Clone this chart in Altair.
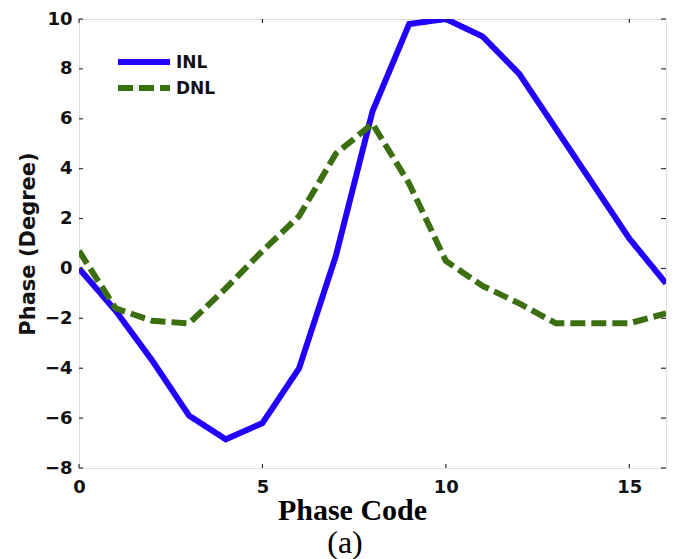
import altair as alt
import pandas as pd

codes = list(range(17))
inl = [0.0, -1.7, -3.7, -5.9, -6.85, -6.2, -4.0, 0.5, 6.3, 9.8, 10.0, 9.3, 7.8, 5.6, 3.4, 1.2, -0.6]
dnl = [0.7, -1.6, -2.1, -2.2, -0.8, 0.7, 2.1, 4.6, 5.8, 3.4, 0.3, -0.7, -1.4, -2.2, -2.2, -2.2, -1.8]
series_names = ["INL", "DNL"]
series_colors = ["#2200ff", "#3b6f10"]
x_ticks = [0, 5, 10, 15]
y_ticks = [-8, -6, -4, -2, 0, 2, 4, 6, 8, 10]

W, H = 587, 449
SANS = "DejaVu Sans"
SERIF = "Liberation Serif"

df = pd.DataFrame({
    "code": codes * 2,
    "value": inl + dnl,
    "series": ["INL"] * len(codes) + ["DNL"] * len(codes),
})

xscale = alt.Scale(domain=[0, 16], nice=False)
yscale = alt.Scale(domain=[-8, 10], nice=False)

xaxis = alt.Axis(values=x_ticks, ticks=False, grid=False, domain=False,
                 labelFont=SANS, labelFontWeight="bold", labelFontSize=18,
                 labelColor="#111", labelPadding=10, labelFlush=False,
                 title="Phase Code", titleFont=SERIF, titleFontWeight="bold",
                 titleFontSize=30, titleColor="#000", titlePadding=-1,
                 titleX=273, titleAnchor="start", titleAlign="center")
yaxis = alt.Axis(values=y_ticks, ticks=False, grid=False, domain=False,
                 labelFont=SANS, labelFontWeight="bold", labelFontSize=18,
                 labelColor="#111", labelPadding=7, labelFlush=False,
                 title="Phase (Degree)", titleFont=SANS, titleFontWeight="bold",
                 titleFontSize=21, titleColor="#111", titlePadding=6)

lines = alt.Chart(df).mark_line(strokeWidth=6, clip=True).encode(
    x=alt.X("code:Q", scale=xscale, axis=xaxis),
    y=alt.Y("value:Q", scale=yscale, axis=yaxis),
    color=alt.Color("series:N", scale=alt.Scale(domain=series_names, range=series_colors), legend=None),
    strokeDash=alt.StrokeDash("series:N", scale=alt.Scale(domain=series_names, range=[[1, 0], [15, 6]]), legend=None),
    detail="series:N",
)

xt = pd.DataFrame({"t": x_ticks})
yt = pd.DataFrame({"t": y_ticks})
tick_style = dict(color="#333", strokeWidth=1.2)
xb = alt.Chart(xt).mark_rule(**tick_style).encode(x=alt.X("t:Q", scale=xscale), y=alt.value(H), y2=alt.value(H - 4))
xtop = alt.Chart(xt).mark_rule(**tick_style).encode(x=alt.X("t:Q", scale=xscale), y=alt.value(0), y2=alt.value(4))
yl = alt.Chart(yt).mark_rule(**tick_style).encode(y=alt.Y("t:Q", scale=yscale), x=alt.value(0), x2=alt.value(4))
yr = alt.Chart(yt).mark_rule(**tick_style).encode(y=alt.Y("t:Q", scale=yscale), x=alt.value(W), x2=alt.value(W - 5))

# legend
leg_inl = alt.Chart(pd.DataFrame({"s": ["INL"]})).mark_rule(strokeWidth=6, color=series_colors[0]).encode(
    x=alt.value(39), x2=alt.value(91), y=alt.value(43))
leg_dnl = alt.Chart(pd.DataFrame({"s": ["DNL"]})).mark_rule(strokeWidth=6, color=series_colors[1], strokeDash=[15, 6]).encode(
    x=alt.value(39), x2=alt.value(91), y=alt.value(69))
leg_txt_inl = alt.Chart(pd.DataFrame({"s": ["INL"]})).mark_text(
    align="left", baseline="middle", font=SANS, fontWeight="bold", fontSize=17, color="#111").encode(
    x=alt.value(97), y=alt.value(44), text="s:N")
leg_txt_dnl = alt.Chart(pd.DataFrame({"s": ["DNL"]})).mark_text(
    align="left", baseline="middle", font=SANS, fontWeight="bold", fontSize=17, color="#111").encode(
    x=alt.value(97), y=alt.value(70), text="s:N")

chart = alt.layer(lines, xb, xtop, yl, yr, leg_inl, leg_dnl, leg_txt_inl, leg_txt_dnl).properties(
    width=W, height=H,
    autosize=alt.AutoSizeParams(type="none"),
    padding={"left": 71, "top": 11, "right": 4, "bottom": 91},
    title=alt.TitleParams(text="(a)", orient="bottom", font=SERIF, fontWeight="normal",
                          fontSize=32, color="#000", offset=3, anchor="start", frame="group",
                          dx=266, align="center"),
).configure_view(stroke="#555", strokeWidth=1.5).configure(background="white")

chart.save("out.html", embed_options={"renderer": "svg", "actions": False})
